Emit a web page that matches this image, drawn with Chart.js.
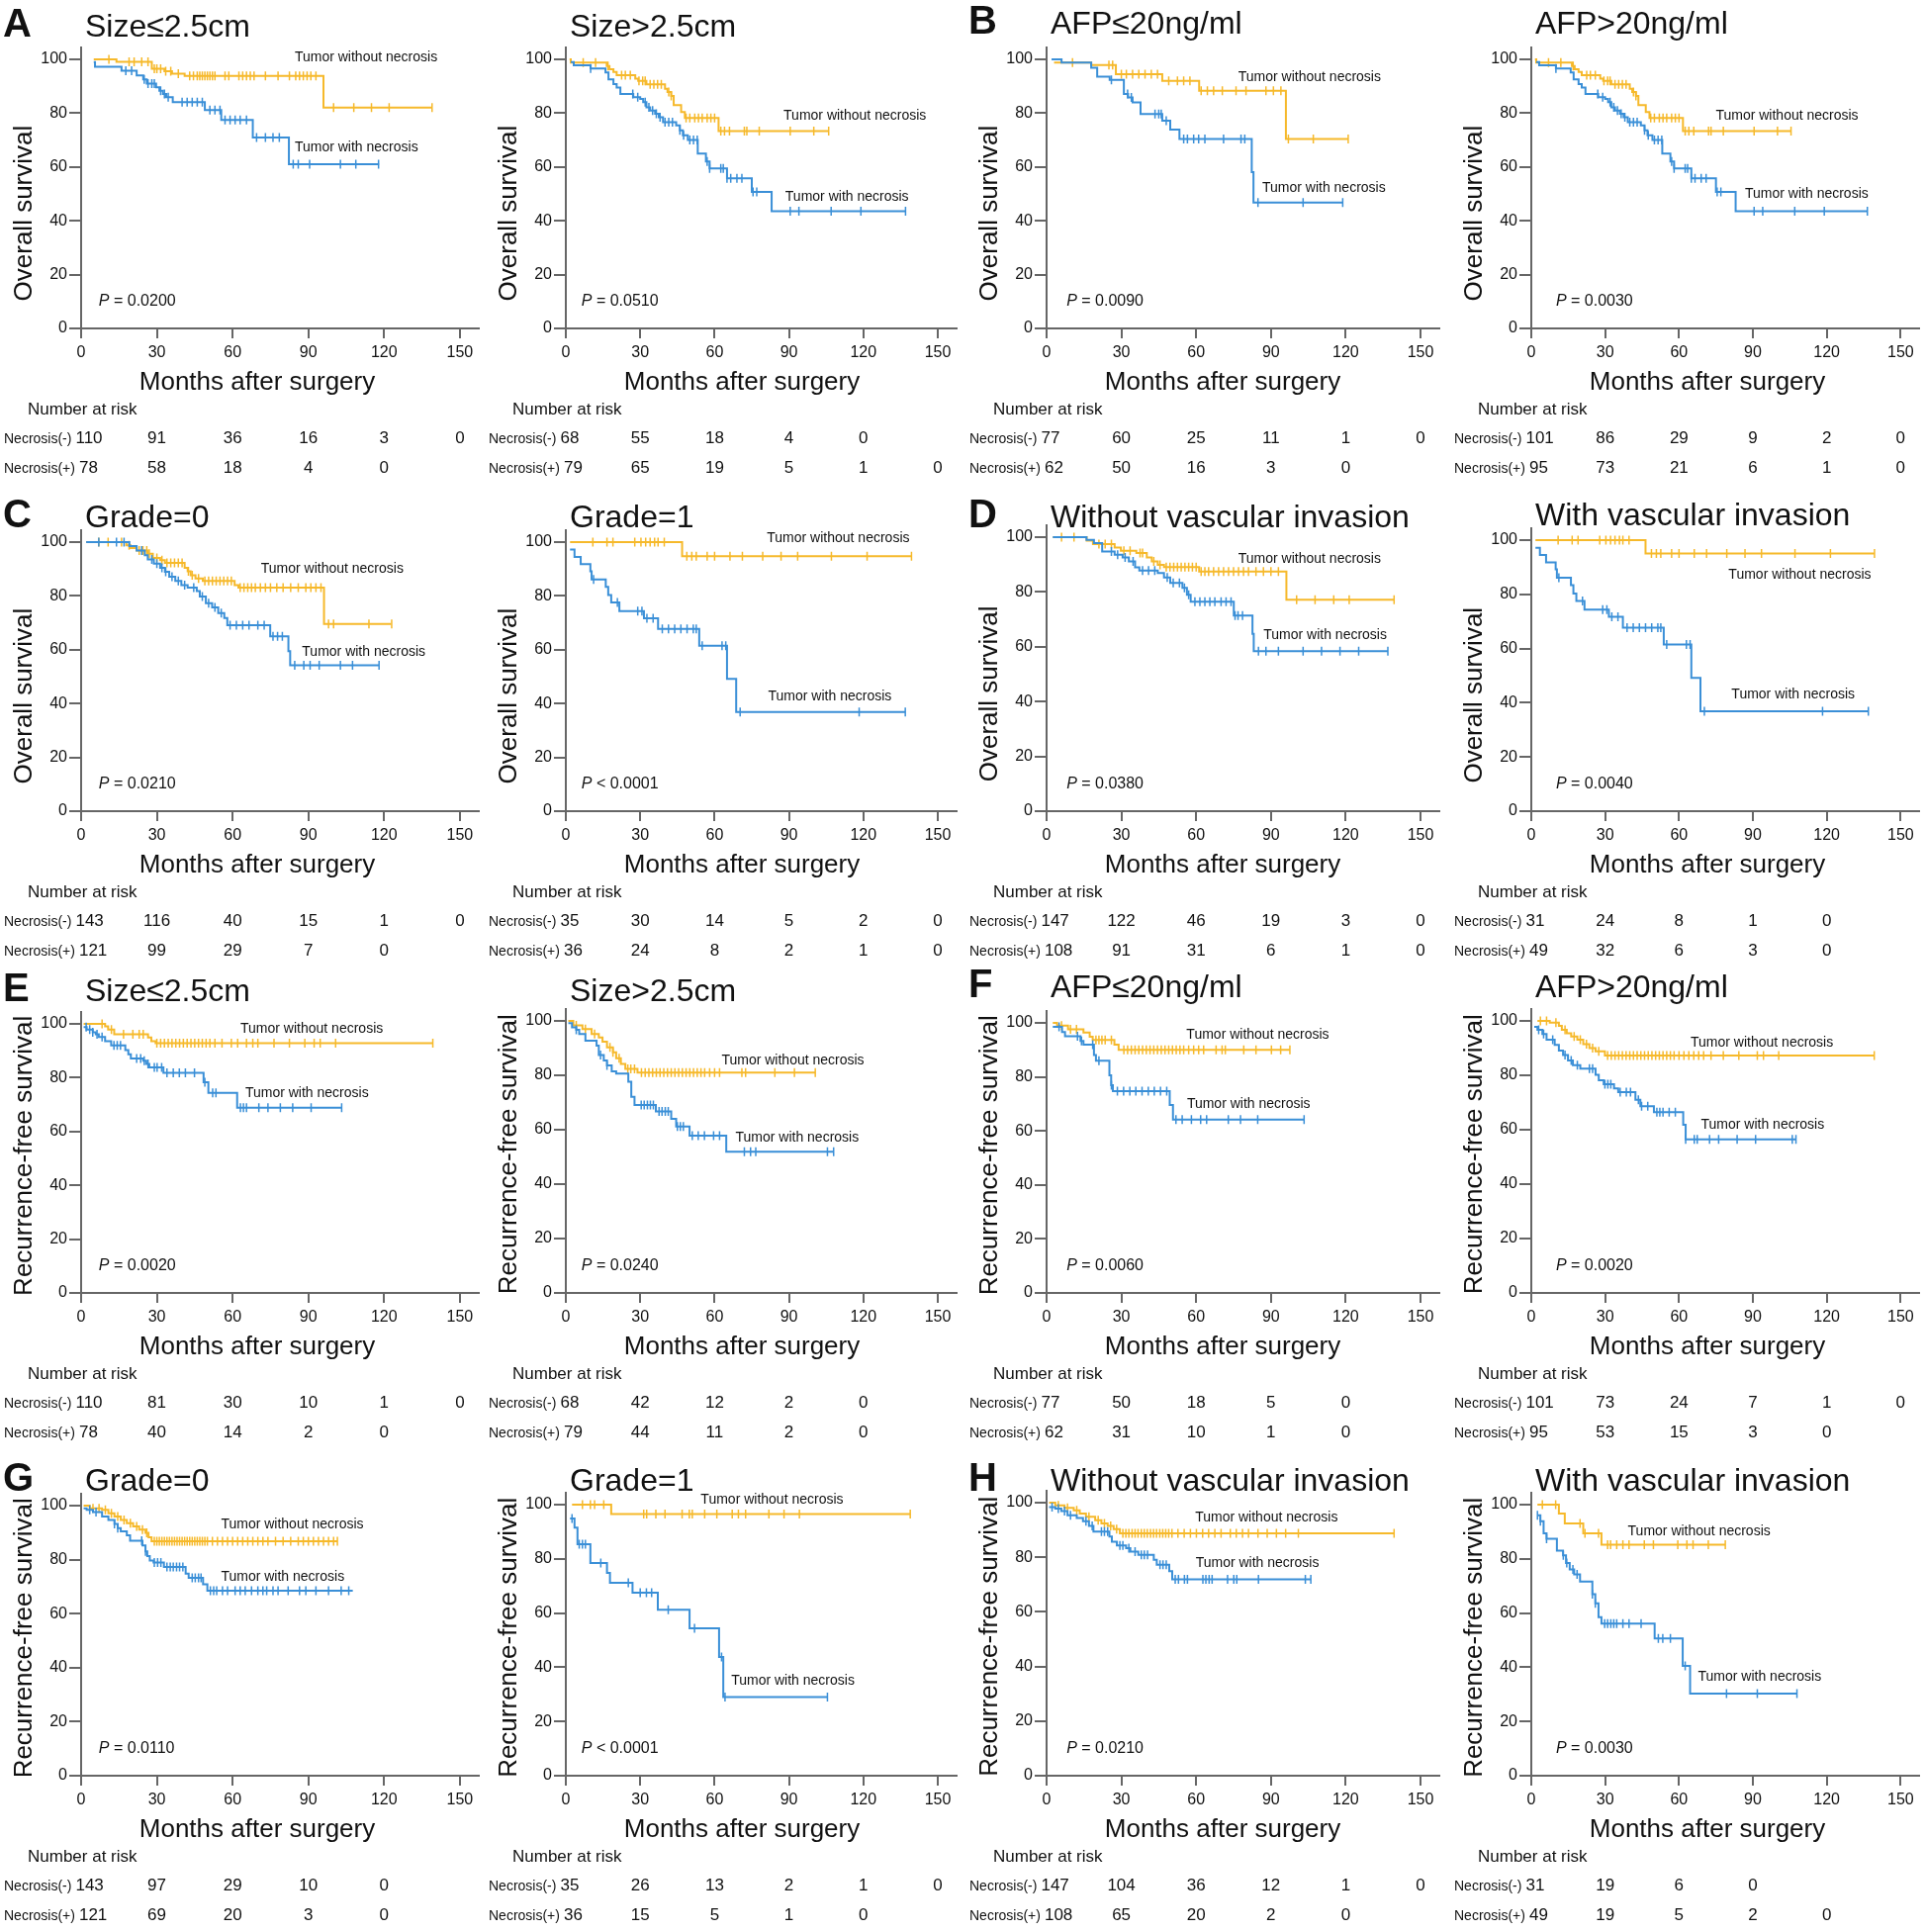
<!DOCTYPE html>
<html><head><meta charset="utf-8">
<script src="https://cdn.jsdelivr.net/npm/chart.js@4.4.0/dist/chart.umd.min.js"></script>
<style>
html,body{margin:0;padding:0;background:#fff;}
#wrap{position:relative;width:1946px;height:1953px;overflow:hidden;background:#fff;}
canvas{position:absolute;}
</style></head><body><div id="wrap"></div>
<script>
// ---------- axis / table values ----------
const xTicks = [0,30,60,90,120,150];
const yTicks = [0,20,40,60,80,100];
const riskTimes = [0,30,60,90,120,150];

// ---------- curves: [month, survival %] step points; censor months ----------
const A1_wo = [[5,100],[14,99.1],[28,96.5],[33,95.6],[36,94.7],[41,93.8],[96,82.1],[139,82.1]];
const A1_wo_c = [11,19,21,24,26.5,29,30,31.5,33.5,35.5,38.5,43,44.5,46,47,48,49,50,51,52,53,57,58.5,62.5,64,65.5,67,68.5,73,78,82.5,85,86.5,88,89.5,91,93,100,108,115,122,139];
const A1_w = [[5,99],[5.5,97.2],[16,95.8],[22,94],[24.6,92.6],[26,91],[29.7,89.6],[31,88.3],[32.4,87.1],[33.7,85.9],[36.3,84.1],[49,81.2],[55.5,77.5],[68,71],[82.3,61],[118,61]];
const A1_w_c = [17.7,20,25,26.5,28,29,31.5,33,34.5,40,42,44,46,48,51,53,55,57,59,61,63,65.5,69.5,73,76,78.5,84,86,90.5,102.7,108.8,117.8];

const A2_wo = [[1.5,100],[2,98.8],[16.5,97.5],[17.6,96.3],[19.2,95.3],[20.5,94.1],[28,92.8],[29.2,92],[32.5,90.7],[40,89.1],[41,87.9],[42.5,86.4],[43.5,83],[46.5,80.4],[48,78.2],[61.6,73.3],[106,73.3]];
const A2_wo_c = [7,12,17,22.5,24,26,29.5,31,32,34,35.5,37,38.5,41.5,42.5,48.5,50,52,53.5,55,57,58.5,60,62.5,64,66,72,73,78,90.5,100,106];
const A2_w = [[2,99],[3.2,97.8],[10,96.6],[16,95.1],[17.2,92.6],[19.2,90.8],[20.5,89.5],[22,87.1],[27.2,85.9],[30,85.3],[31.2,84.1],[32.5,82.2],[34,81],[36,79.8],[37.5,78.5],[39.2,76.7],[44.5,75.5],[46,73.6],[47.2,71.8],[49.2,70],[53.2,65],[56.5,62],[58,59.5],[65,55.8],[75,50.7],[83,43.6],[137,43.6]];
const A2_w_c = [10,27,29,32,33.5,35,36.5,38,40,41.5,43,46,47.5,50,51.5,53,57,58,62.5,63.5,65,66.5,69,71,75.5,77,90.5,94,107,119,137];

const B1_wo = [[3,98.8],[17.9,97.9],[27.8,94.5],[46.4,92],[61.2,88.3],[96,70.4],[121,70.4]];
const B1_wo_c = [10.4,25,26.5,30,32,34.5,37,39.5,42,44.5,49,52.5,55,57.5,62,64.5,67,70.5,76,80,88,91,94,97,107,121];
const B1_w = [[2,100],[6,98.8],[17.9,96.9],[20.3,93.6],[25.3,92.4],[31,87.1],[32.7,85.8],[34.5,84],[37.7,79.7],[46.4,77.2],[49.6,73.9],[53.3,70.4],[82.3,58.1],[83,46.8],[118.8,46.8]];
const B1_w_c = [26,32.5,34,43.5,45,46,48,55,56.5,59,61,63.5,71,78,79.5,84.8,102.9,118.8];

const B2_wo = [[1.5,100],[2,98.8],[16.5,97.5],[17.6,96.3],[19.2,95.3],[20.5,94.1],[28,92.8],[29.2,92],[32.5,90.7],[40,89.1],[41,87.9],[42.5,86.4],[43.5,83],[46.5,80.4],[48,78.2],[61.6,73.3],[105.5,73.3]];
const B2_wo_c = [7,12,17,22.5,24,26,29.5,31,32,34,35.5,37,38.5,41.5,42.5,48.5,50,52,53.5,55,57,58.5,60,62.5,64,66,72,73,78,90.5,100,105.5];
const B2_w = [[2,99],[3.2,97.8],[10,96.6],[16,95.1],[17.2,92.6],[19.2,90.8],[20.5,89.5],[22,87.1],[27.2,85.9],[30,85.3],[31.2,84.1],[32.5,82.2],[34,81],[36,79.8],[37.5,78.5],[39.2,76.7],[44.5,75.5],[46,73.6],[47.2,71.8],[49.2,70],[53.2,65],[56.5,62],[58,59.5],[65,55.8],[75,50.7],[83,43.6],[136.5,43.6]];
const B2_w_c = [10,27,29,32,33.5,35,36.5,38,40,41.5,43,46,47.5,50,51.5,53,57,58,62.5,63.5,65,66.5,69,71,75.5,77,90.5,94,107,119,136.5];

const C1_wo = [[2,100],[17.9,98.8],[19.6,97.8],[22,96.9],[26.4,95.7],[28.4,94.1],[31.3,93.3],[33.2,92.3],[41,90.4],[42.2,89.2],[43.4,87.7],[45.3,86.5],[48.2,85.6],[60.8,84],[62.3,83.1],[96.2,69.6],[122.8,69.6]];
const C1_wo_c = [7,10.7,16,19,23,24.5,26,27,30,32,34,35.5,37,38.5,40,42.5,44,46.5,49,50.5,52,53.5,55,56.5,58,59.5,63,64.5,66,67.5,69,71,73,75,77.5,80,83,86,89,91,93,95,98,100,114,123];
const C1_w = [[2,100],[19.1,98.5],[22,96.9],[25.2,95.1],[26.4,93.6],[28.8,92],[31.3,90.4],[33.2,89],[34.9,87.1],[37.3,85.6],[39.7,84],[42.2,83.1],[45.8,81.8],[47,79.8],[49.4,77.3],[51.9,75.7],[54.3,73.6],[56.7,71.8],[57.9,69.1],[74.9,65],[82.1,59.5],[82.8,54.2],[118,54.2]];
const C1_w_c = [7,14,17,24,28,30,32,33.5,36,38.5,41,44.6,48,50.5,53,55.5,59,61.5,64,66.5,70,72.5,76,77.8,79.7,84.6,88.2,90.7,94.3,102.7,107.5,118];

const C2_wo = [[1.7,100],[46.9,94.8],[139.4,94.8]];
const C2_wo_c = [10.9,16.6,19,27.8,30.3,32.2,34,35.8,37.2,39.7,48.8,50.8,52.6,57,60,66.2,71.2,79.4,86.8,93.5,107.1,121.5,139.4];
const C2_w = [[1.7,97.2],[3.5,94.5],[6,91.8],[9.9,89.2],[10.4,86.1],[16.1,83.4],[17.1,80.3],[18.3,77.6],[21.6,74.4],[31.5,71.7],[37.2,67.7],[53.8,61.5],[65,49.2],[68.7,36.9],[136.9,36.9]];
const C2_w_c = [11.2,20.8,29,30.7,32.7,35.2,38.9,41.4,43.9,46.4,48.9,51.4,52.6,55,63,64.5,70.3,118.3,136.9];

const D1_wo = [[2.5,100],[16.1,98.7],[18.6,97.5],[27.3,96.2],[29.8,95],[36,94.2],[40.2,92.6],[42.2,91.2],[44.6,89.9],[47.1,89.1],[61.2,87.5],[96.2,77.2],[139.4,77.2]];
const D1_wo_c = [6,11,21,23.5,26,31,33.5,37.5,38.5,43,45.5,48,49.5,51,52.5,54,55.5,57,58.5,60,62,63.5,65,67,69,71,73,75,77,79,81,84,87,90,93,100.3,107.7,115.2,121.4,139.4];
const D1_w = [[2.5,100],[16,99],[19,97.8],[22.3,94.8],[27.3,93.6],[30.5,92.6],[33,91.2],[35.5,89],[37.2,87.8],[44.6,86.9],[47.1,85.3],[49.6,83.3],[54.5,81.5],[56.3,79],[57.8,76.4],[75.1,71.4],[82.6,64.7],[83.1,58.4],[136.9,58.4]];
const D1_w_c = [26,28.5,31.5,34.7,38.5,40.9,43.4,48.4,50.8,53.3,55.3,57,59.5,61.5,63.5,65.5,67.5,70,72,74,75.6,76.8,78.6,85,88,93,102.9,110.3,117.7,125.2,136.9];

const D2_wo = [[1.7,100],[46.4,95.1],[139.4,95.1]];
const D2_wo_c = [10.9,16.6,19,27.8,30.3,32.2,34,35.8,37.2,39.7,48.8,50.8,52.6,57,60,66.2,71.2,79.4,86.8,93.5,107.1,121.5,139.4];
const D2_w = [[1.7,97.2],[3.5,94.5],[6,91.8],[9.9,89.2],[10.4,86.1],[16.1,83.4],[17.1,80.3],[18.3,77.6],[21.6,74.4],[31.5,71.7],[37.2,67.7],[53.8,61.5],[65,49.2],[68.7,36.9],[136.9,36.9]];
const D2_w_c = [11.2,20.8,29,30.7,32.7,35.2,38.9,41.4,43.9,46.4,48.9,51.4,52.6,55,63,64.5,70.3,118.3,136.9];

const E1_wo = [[1,100],[9.5,99.1],[10.7,97.9],[13.1,96.1],[26.5,94.9],[27.8,93.6],[29.5,92.8],[139.3,92.8]];
const E1_wo_c = [8.3,12,16.8,20.5,23,24.6,30,31.5,33,34.5,36,37.5,39,40.5,42,43.5,45,46.5,48,49.5,51,53,55.8,59.5,62,65.5,68,70,76.4,82.5,88.6,92.3,94.7,100.8,139.3];
const E1_w = [[1,98.8],[2.2,97.9],[4.6,96.9],[5.8,96.1],[7,95.1],[9.5,93.6],[11.9,92],[17.5,90.3],[18.7,88.7],[19.7,87.1],[24.6,86.3],[25.8,85.1],[27,83.8],[32.6,81.8],[48.5,78.3],[50.4,74.4],[61.8,68.8],[103.2,68.8]];
const E1_w_c = [2,3.4,4.6,6.3,8.3,13,14.3,15.6,22,23.6,25,26.5,29,30.1,31.9,34,36.5,38.9,41.3,44.9,49,52.1,53.4,63.1,64.3,65.5,70.4,74,78.9,83.8,91.1,103.2];

const E2_wo = [[1,100],[3,98.4],[6.7,97],[10.4,95.2],[13.3,93.9],[14.8,92.4],[16.6,90.3],[19,88.5],[20.3,86.3],[22.2,84.2],[24,82.4],[28.9,81],[100.6,81]];
const E2_wo_c = [4.2,7.9,11.6,17.8,19,21.5,25,26.2,27.7,30.5,32,33.5,35,36.5,38,39.5,41,42.5,44,45.5,47,48.5,50,51.5,53,54.5,56,58,60,62,71,72.5,84.3,92.2,100.6];
const E2_w = [[1,99.2],[2.5,97.6],[4.2,96.7],[5.4,95.2],[7.9,92.7],[12.4,90.9],[13.3,87.5],[15.3,85.5],[16.6,83.6],[18.5,81.5],[20.3,80.6],[25.2,77.6],[26.4,72.1],[27.7,69.1],[36.3,66.7],[42.5,64],[44.5,61.2],[49.9,57.8],[64.7,51.9],[108,51.9]];
const E2_w_c = [4.2,14,16.6,30.4,31.6,32.9,34.1,35.3,37.6,38.8,40.1,41.3,45,46.2,47.4,51,53.4,55.9,59.6,62,72,74.5,76.6,105.5,108];

const F1_wo = [[2.5,100],[4.2,99],[8.6,97.6],[14.8,96.4],[17.3,94.9],[18.5,93.7],[27.2,91.9],[28.9,90],[97.6,90]];
const F1_wo_c = [6,9.6,12,19.8,21,22.2,23.5,26,31,32.5,34,35.5,37,38.5,40,41.5,43,44.5,46,47.5,49,50.5,52,53.5,55,57,59,61,63,68,70.4,71.7,79.1,84,90.2,93.9,97.6];
const F1_w = [[2.5,98.5],[6.2,96.6],[7.4,95.1],[13.6,93.3],[14.8,91.9],[19,88.1],[19.8,86],[25.2,80.6],[25.9,76.9],[26.6,74.7],[49.4,69.6],[50.7,64.2],[103.3,64.2]];
const F1_w_c = [5,12.4,14,18.5,21,26,28.4,30.9,33.4,35.8,38.3,40.8,43.2,45.7,48.2,51.9,54.4,58.1,61.8,64.2,72.9,77.8,84.7,103.3];

const F2_wo = [[2.5,100],[7.5,99.4],[11.2,98.2],[12.4,96.7],[14.4,95.5],[16.2,94.3],[18.7,93.1],[21.1,91.5],[23.6,90],[26.1,88.8],[29.9,87.3],[139.3,87.3]];
const F2_wo_c = [3.7,6.2,10,13.7,17.4,19.9,22.4,24.9,27.4,31,32.5,34,35.5,37,38.5,40,41.5,43,44.5,46,47.5,49,50.5,52,53.5,55,56.5,58,60,62,64,66,68,70,73,78,84.3,91.8,94.3,100.5,139.3];
const F2_w = [[1.2,97.8],[2.5,96.7],[4.5,95.2],[6.2,93.1],[9.5,91.2],[11.2,89.1],[12.9,87.5],[14.9,85.5],[16.9,83.7],[19.9,82.5],[26.1,80.2],[27.4,78.2],[29.4,76.7],[33.6,75.2],[35.3,73.8],[42.3,71],[44.3,68.6],[49.8,66.5],[61.7,61.8],[62.7,56.5],[107.5,56.5]];
const F2_w_c = [3,5,8.7,13.7,16.2,18.7,23.6,24.9,29.9,31.1,32.3,36.1,38.6,40.3,43.5,44.8,47.3,51,52.2,53.5,56,58.5,62.7,66.2,67.4,72.4,76.1,83.6,91.1,106,107.5];

const G1_wo = [[1,100],[3.4,99],[8.3,98.4],[10.8,97.2],[13.2,96],[15.7,94.7],[18.1,93.5],[20.6,92.3],[23,91.1],[25.5,89.9],[26.7,88.3],[27.9,86.8],[101.5,86.8]];
const G1_wo_c = [4.7,7.1,9.6,12,14.5,17,19.5,22,24.3,26,29,30,31,32,33,34,35,36,37,38,39,40,41,42,43,44,45,46,47,48,49,50,52,54,56,58,60,62,64,66,68,70,72,74,77,80,83,86,88,90,92,94,96,98,100,101.5];
const G1_w = [[1,99],[2.2,98.4],[4.7,97.6],[8.3,96],[10.8,94.7],[13.2,93.2],[14.5,91.7],[15.7,90.5],[18.1,89],[19.4,87],[24.3,85.3],[25.5,83.1],[26.2,81.3],[27.2,79.7],[28.7,78.9],[32.8,77.3],[41.4,74.8],[42.6,73.3],[48.3,70.9],[50,68.5],[107.6,68.5]];
const G1_w_c = [3.4,5.9,13.2,14.5,24,25.5,29,30.3,31.6,34,35.3,36.5,37.8,39,40.3,44,45.2,46.5,47.5,51.2,52.5,53.7,56,58,61,63,65,67.5,70,72,73.5,76,78,82,86.5,89,93,98,103,106];

const G2_wo = [[2.5,100],[18.3,96.5],[138.9,96.5]];
const G2_wo_c = [6.7,9.9,11.6,15.3,31.4,32.6,36.3,40,46.9,49.8,51,56,60.9,67.1,69.6,72.5,81.9,88,94.2,138.9];
const G2_w = [[1.7,94.9],[3.5,91.5],[4.7,85.4],[9.9,78.5],[16.6,74.8],[17.8,71.2],[26.9,67.5],[37.1,61.2],[49.9,54.4],[61.8,43.8],[63.5,29],[105.5,29]];
const G2_w_c = [2.5,5.4,6.7,7.9,14.1,25.2,30,32.5,34.6,41.3,51.9,62.8,64.2,105.5];

const H1_wo = [[1,100],[3.5,99],[7.2,98.1],[10.9,97.2],[13.3,96],[15.8,94.8],[19.5,93.6],[22,92.4],[24.5,91.5],[26.9,90.3],[29.4,88.8],[139.4,88.8]];
const H1_wo_c = [4.7,8.4,12.1,17,20.7,23.2,25.7,28.1,30.6,31.8,33,34.3,35.5,36.7,38,39.2,40.4,41.7,42.9,44.1,45.4,46.6,47.8,49,50.3,52.7,55.2,57.7,60.1,62.6,65,67.5,70,73.7,76.1,78.6,81,84.8,88.5,92.2,95.9,101,139.4];
const H1_w = [[1,98.4],[3.5,97.8],[5.9,96.9],[8.4,95.4],[12.1,94.4],[14.6,93.2],[17,91.5],[18.8,89.4],[25.2,87.6],[26.2,85.7],[28.2,84.3],[31.9,83.3],[33.6,82.1],[36.8,80.9],[43,79.1],[44.2,77.3],[49.2,74.9],[50.4,71.9],[106,71.9]];
const H1_w_c = [2.2,4.7,7.2,9.6,15.8,18.3,22,23.2,24.5,29.4,30.6,33,35.5,38,39.2,40.5,45.5,46.7,48,51.6,52.9,55.3,56.5,62.7,63.9,65.2,66.4,72.6,75.1,76.3,85,103.8,106];

const H2_wo = [[2.5,100],[11.2,96.7],[13.6,93.1],[21.1,89.4],[28.5,85.2],[78.8,85.2]];
const H2_wo_c = [4.5,9.9,19.8,21.8,27.3,31,32.2,34.7,37.2,39.7,45.9,49.6,59.5,63.2,65.7,71.9,78.8];
const H2_w = [[2.5,96.1],[3.7,93.9],[5,89.4],[6.2,87.4],[10.4,83],[12.9,81.3],[14.1,78.5],[15.6,76.1],[17.4,74.3],[19.8,71.6],[24.8,67],[26,63.6],[27.3,58.5],[28.5,56.1],[50.1,50.6],[61.5,40.5],[64.5,30.3],[107.9,30.3]];
const H2_w_c = [2.5,3.7,6.2,13,14.4,16.9,18.6,24.8,26,29.8,31,32.3,33.5,34.7,37.2,39.7,44.6,51.6,53.4,56.5,62.5,79.3,91.8,107.9];

// ---------- numbers at risk ----------
const A1_riskNeg = [110,91,36,16,3,0],   A1_riskPos = [78,58,18,4,0];
const A2_riskNeg = [68,55,18,4,0],       A2_riskPos = [79,65,19,5,1,0];
const B1_riskNeg = [77,60,25,11,1,0],    B1_riskPos = [62,50,16,3,0];
const B2_riskNeg = [101,86,29,9,2,0],    B2_riskPos = [95,73,21,6,1,0];
const C1_riskNeg = [143,116,40,15,1,0],  C1_riskPos = [121,99,29,7,0];
const C2_riskNeg = [35,30,14,5,2,0],     C2_riskPos = [36,24,8,2,1,0];
const D1_riskNeg = [147,122,46,19,3,0],  D1_riskPos = [108,91,31,6,1,0];
const D2_riskNeg = [31,24,8,1,0],        D2_riskPos = [49,32,6,3,0];
const E1_riskNeg = [110,81,30,10,1,0],   E1_riskPos = [78,40,14,2,0];
const E2_riskNeg = [68,42,12,2,0],       E2_riskPos = [79,44,11,2,0];
const F1_riskNeg = [77,50,18,5,0],       F1_riskPos = [62,31,10,1,0];
const F2_riskNeg = [101,73,24,7,1,0],    F2_riskPos = [95,53,15,3,0];
const G1_riskNeg = [143,97,29,10,0],     G1_riskPos = [121,69,20,3,0];
const G2_riskNeg = [35,26,13,2,1,0],     G2_riskPos = [36,15,5,1,0];
const H1_riskNeg = [147,104,36,12,1,0],  H1_riskPos = [108,65,20,2,0];
const H2_riskNeg = [31,19,6,0],          H2_riskPos = [49,19,5,2,0];

// ---------- panel texts ----------
const panelLetters = ['A','','B','','C','','D','','E','','F','','G','','H',''];
const panelTitles = ['Size≤2.5cm','Size>2.5cm','AFP≤20ng/ml','AFP>20ng/ml','Grade=0','Grade=1','Without vascular invasion','With vascular invasion',
                     'Size≤2.5cm','Size>2.5cm','AFP≤20ng/ml','AFP>20ng/ml','Grade=0','Grade=1','Without vascular invasion','With vascular invasion'];
const pTexts = ['= 0.0200','= 0.0510','= 0.0090','= 0.0030','= 0.0210','< 0.0001','= 0.0380','= 0.0040',
                '= 0.0020','= 0.0240','= 0.0060','= 0.0020','= 0.0110','< 0.0001','= 0.0210','= 0.0030'];
const yTitleOS = 'Overall survival', yTitleRFS = 'Recurrence-free survival';
const labWithout = 'Tumor without necrosis', labWith = 'Tumor with necrosis';
const xTitle = 'Months after surgery';
const riskHeader = 'Number at risk', riskLabNeg = 'Necrosis(-)', riskLabPos = 'Necrosis(+)';

// ---------- layout (pixels / label anchors) ----------
const colLeft = [0,490,976,1466], colW = [490,486,490,480], w150 = [384,376,378,377];
const rowTop = [0,488,975,1463], rowH = [488,487,488,490];
const y100px = [60,60,60,60, 60,60,55,58, 60,57,59,57, 59,58,56,58];
const titleBase = [37,37,34,34, 45,45,45,43, 37,37,33,33, 44,44,44,44];
const pPosX = [7,6.3,8,10];
const labWoPos = [[84.6,100.6],[87.8,78.9],[76.9,93.2],[74.9,79],[71.2,90.2],[81.1,101.4],[76.9,92.1],[80.1,87],
                  [63.1,98.2],[62.8,85.5],[56.1,95.4],[64.7,92.1],[55.4,92.9],[54.4,101.6],[59.6,94.6],[39.2,90]];
const labWPos = [[84.6,67.2],[88.5,48.8],[86.5,52.3],[86.8,50.1],[87.5,59.3],[81.6,42.6],[87,64.2],[81.3,43],
                 [65,74.3],[68.4,57.2],[56.3,69.9],[68.9,61.7],[55.4,73.7],[66.7,35],[59.8,77.7],[67.7,36.3]];

const curves = [
  [A1_wo,A1_wo_c,A1_w,A1_w_c,A1_riskNeg,A1_riskPos],[A2_wo,A2_wo_c,A2_w,A2_w_c,A2_riskNeg,A2_riskPos],
  [B1_wo,B1_wo_c,B1_w,B1_w_c,B1_riskNeg,B1_riskPos],[B2_wo,B2_wo_c,B2_w,B2_w_c,B2_riskNeg,B2_riskPos],
  [C1_wo,C1_wo_c,C1_w,C1_w_c,C1_riskNeg,C1_riskPos],[C2_wo,C2_wo_c,C2_w,C2_w_c,C2_riskNeg,C2_riskPos],
  [D1_wo,D1_wo_c,D1_w,D1_w_c,D1_riskNeg,D1_riskPos],[D2_wo,D2_wo_c,D2_w,D2_w_c,D2_riskNeg,D2_riskPos],
  [E1_wo,E1_wo_c,E1_w,E1_w_c,E1_riskNeg,E1_riskPos],[E2_wo,E2_wo_c,E2_w,E2_w_c,E2_riskNeg,E2_riskPos],
  [F1_wo,F1_wo_c,F1_w,F1_w_c,F1_riskNeg,F1_riskPos],[F2_wo,F2_wo_c,F2_w,F2_w_c,F2_riskNeg,F2_riskPos],
  [G1_wo,G1_wo_c,G1_w,G1_w_c,G1_riskNeg,G1_riskPos],[G2_wo,G2_wo_c,G2_w,G2_w_c,G2_riskNeg,G2_riskPos],
  [H1_wo,H1_wo_c,H1_w,H1_w_c,H1_riskNeg,H1_riskPos],[H2_wo,H2_wo_c,H2_w,H2_w_c,H2_riskNeg,H2_riskPos]
];

const YELLOW = '#F6B92B', BLUE = '#3A8FD7', AX = '#666666', TXT = '#111111';
const FONT = "'Liberation Sans', Arial, Helvetica, sans-serif";
Chart.defaults.font.family = FONT;
Chart.defaults.color = TXT;

function stepVal(steps, t) {
  let v = steps[0][1];
  for (const [x, y] of steps) { if (x <= t + 1e-9) v = y; else break; }
  return v;
}

const decor = {
  id: 'decor',
  afterDraw(chart, args, o) {
    const ctx = chart.ctx, xs = chart.scales.x, ys = chart.scales.y;
    const i = o.idx, ax = xs.getPixelForValue(0), y0 = ys.getPixelForValue(0);
    const isOS = i < 8;
    ctx.save();
    ctx.fillStyle = TXT;
    ctx.textBaseline = 'alphabetic';
    ctx.textAlign = 'left';
    if (panelLetters[i]) { ctx.font = 'bold 40px ' + FONT; ctx.fillText(panelLetters[i], ax - 79, titleBase[i]); }
    ctx.font = '32px ' + FONT;
    ctx.fillText(panelTitles[i], ax + 4, titleBase[i]);
    // y title
    ctx.save();
    ctx.translate(ax - 57, ys.getPixelForValue(isOS ? 42.8 : 51));
    ctx.rotate(-Math.PI / 2);
    ctx.font = '26px ' + FONT; ctx.textAlign = 'center'; ctx.textBaseline = 'middle';
    ctx.fillText(isOS ? yTitleOS : yTitleRFS, 0, 0);
    ctx.restore();
    // x title
    ctx.font = '26px ' + FONT; ctx.textAlign = 'center';
    ctx.fillText(xTitle, ax + 178, y0 + 62);
    // curve labels
    ctx.font = '14px ' + FONT; ctx.textAlign = 'left'; ctx.textBaseline = 'middle';
    ctx.fillText(labWithout, xs.getPixelForValue(labWoPos[i][0]), ys.getPixelForValue(labWoPos[i][1]));
    ctx.fillText(labWith, xs.getPixelForValue(labWPos[i][0]), ys.getPixelForValue(labWPos[i][1]));
    // P value
    const px = xs.getPixelForValue(pPosX[i % 4]), py = ys.getPixelForValue(10);
    ctx.font = 'italic 16px ' + FONT; ctx.fillText('P', px, py);
    const pw = ctx.measureText('P').width;
    ctx.font = '16px ' + FONT; ctx.fillText(' ' + pTexts[i], px + pw, py);
    // risk table
    ctx.textBaseline = 'alphabetic';
    ctx.font = '17px ' + FONT; ctx.textAlign = 'left';
    ctx.fillText(riskHeader, ax - 54, y0 + 87);
    const rows = [[riskLabNeg, curves[i][4], y0 + 116], [riskLabPos, curves[i][5], y0 + 146]];
    for (const [lab, vals, yy] of rows) {
      ctx.font = '14px ' + FONT; ctx.textAlign = 'left';
      ctx.fillText(lab, ax - 78, yy);
      const lw = ctx.measureText(lab).width;
      ctx.font = '17px ' + FONT;
      vals.forEach((v, j) => {
        if (j === 0) { ctx.textAlign = 'left'; ctx.fillText(String(v), ax - 78 + lw + 4, yy); }
        else { ctx.textAlign = 'center'; ctx.fillText(String(v), xs.getPixelForValue(riskTimes[j]), yy); }
      });
    }
    ctx.restore();
  }
};

const wrap = document.getElementById('wrap');
for (let i = 0; i < 16; i++) {
  const r = Math.floor(i / 4), c = i % 4;
  const cv = document.createElement('canvas');
  cv.width = colW[c]; cv.height = rowH[r];
  cv.style.left = colLeft[c] + 'px'; cv.style.top = rowTop[r] + 'px';
  cv.style.width = colW[c] + 'px'; cv.style.height = rowH[r] + 'px';
  wrap.appendChild(cv);

  const y0 = 332, y100 = y100px[i];
  const ppu = (y0 - y100) / 100;
  const yMax = 104.5;
  const top = y100 - (yMax - 100) * ppu;
  const xMax = 157.5;
  const right = 82 + w150[c] * xMax / 150;
  const [wo, woC, w, wC] = curves[i];

  const mk = (steps, cens, col) => ([
    { type: 'line', data: steps.map(([x, y]) => ({ x, y })), borderColor: col, borderWidth: 2,
      pointRadius: 0, stepped: true, fill: false, tension: 0 },
    { type: 'line', data: cens.map(t => ({ x: t, y: stepVal(steps, t) })), showLine: false,
      pointStyle: 'line', pointRotation: 90, pointRadius: 4.5, pointBorderWidth: 1.5,
      pointBorderColor: col, pointBackgroundColor: col, borderColor: col }
  ]);

  new Chart(cv, {
    type: 'line',
    data: { datasets: [...mk(w, wC, BLUE), ...mk(wo, woC, YELLOW)] },
    options: {
      responsive: false, animation: false, devicePixelRatio: 1, events: [],
      layout: { padding: { left: 2, top: top, right: colW[c] - right, bottom: rowH[r] - y0 - 40 } },
      plugins: { legend: { display: false }, tooltip: { enabled: false }, title: { display: false }, decor: { idx: i } },
      scales: {
        x: {
          type: 'linear', min: 0, max: xMax, bounds: 'data',
          afterBuildTicks: s => { s.ticks = xTicks.map(v => ({ value: v })); },
          afterFit: s => { s.height = 40; },
          grid: { drawOnChartArea: false, drawTicks: true, tickLength: 10, color: AX, lineWidth: 2 },
          border: { display: true, color: AX, width: 2 },
          ticks: { font: { size: 16 }, color: TXT, padding: 5, maxRotation: 0, autoSkip: false }
        },
        y: {
          type: 'linear', min: 0, max: yMax, bounds: 'data',
          afterBuildTicks: s => { s.ticks = yTicks.map(v => ({ value: v })); },
          afterFit: s => { s.width = 80; },
          grid: { drawOnChartArea: false, drawTicks: true, tickLength: 12, color: AX, lineWidth: 2 },
          border: { display: true, color: AX, width: 2 },
          ticks: { font: { size: 16 }, color: TXT, padding: 2, autoSkip: false }
        }
      }
    },
    plugins: [decor]
  });
}
</script>
</body></html>
